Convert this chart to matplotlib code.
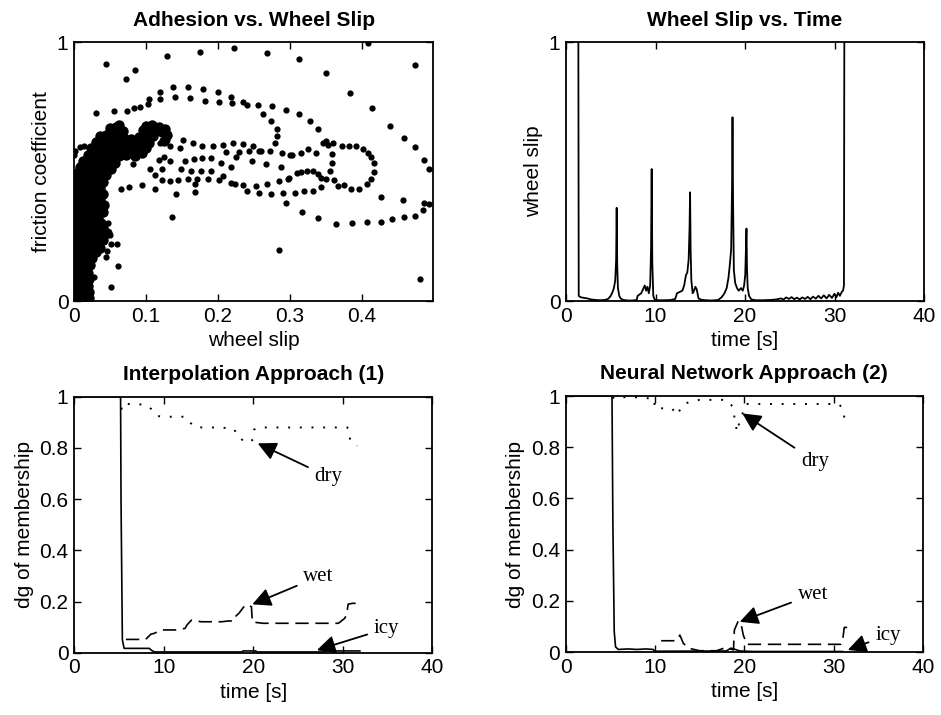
import numpy as np
import matplotlib
matplotlib.use('Agg')
import matplotlib.pyplot as plt
from matplotlib.ticker import StrMethodFormatter

plt.rcParams['font.family'] = ['Liberation Sans', 'DejaVu Sans']

# ---- Adhesion vs. wheel slip: (slip, friction coefficient) points ----
# sparse dots: outliers, loops and bands
sparse_pts = [
    (0.044, 0.915), (0.073, 0.858), (0.085, 0.893), (0.129, 0.945), (0.176, 0.963),
    (0.223, 0.977), (0.269, 0.960), (0.3125, 0.936), (0.351, 0.881), (0.409, 0.996),
    (0.474, 0.911), (0.481, 0.085), (0.285, 0.197), (0.136, 0.326), (0.060, 0.220),
    (0.061, 0.137), (0.028, 0.094), (0.052, 0.054),
    (0.031, 0.725), (0.056, 0.736), (0.074, 0.735), (0.084, 0.744), (0.092, 0.751),
    (0.103, 0.762), (0.104, 0.782), (0.119, 0.807), (0.1375, 0.826), (0.159, 0.826),
    (0.179, 0.818), (0.200, 0.807), (0.219, 0.790), (0.235, 0.769), (0.240, 0.759),
    (0.256, 0.758), (0.263, 0.722), (0.276, 0.753), (0.274, 0.696), (0.282, 0.664),
    (0.283, 0.639), (0.280, 0.612), (0.295, 0.738), (0.3125, 0.722), (0.328, 0.696),
    (0.339, 0.664), (0.350, 0.618),
    (0.120, 0.780), (0.141, 0.790), (0.162, 0.784), (0.182, 0.774), (0.202, 0.767),
    (0.220, 0.764),
    (0.384, 0.803), (0.414, 0.746), (0.440, 0.676), (0.459, 0.631), (0.475, 0.594),
    (0.487, 0.545), (0.494, 0.509), (0.487, 0.380), (0.494, 0.376),
    (0.151, 0.622), (0.165, 0.609), (0.178, 0.597), (0.194, 0.599), (0.208, 0.603),
    (0.221, 0.609), (0.235, 0.606), (0.249, 0.600), (0.260, 0.581), (0.273, 0.581),
    (0.290, 0.573), (0.300, 0.564),
    (0.148, 0.590), (0.155, 0.542), (0.167, 0.548), (0.178, 0.552), (0.191, 0.552),
    (0.205, 0.535), (0.211, 0.577), (0.226, 0.558), (0.230, 0.577), (0.244, 0.580),
    (0.247, 0.542), (0.258, 0.581), (0.267, 0.530), (0.288, 0.517),
    (0.149, 0.509), (0.163, 0.503), (0.177, 0.503), (0.191, 0.504), (0.207, 0.483),
    (0.219, 0.517), (0.202, 0.468), (0.186, 0.470), (0.171, 0.473), (0.158, 0.470),
    (0.145, 0.468), (0.134, 0.464), (0.123, 0.468), (0.113, 0.487),
    (0.218, 0.457), (0.224, 0.452), (0.235, 0.448), (0.241, 0.426), (0.253, 0.445),
    (0.258, 0.416), (0.269, 0.451), (0.274, 0.412), (0.285, 0.465), (0.291, 0.416),
    (0.298, 0.473), (0.295, 0.378), (0.094, 0.448), (0.113, 0.434), (0.142, 0.414),
    (0.169, 0.420), (0.169, 0.452), (0.065, 0.433), (0.077, 0.439), (0.082, 0.530),
    (0.120, 0.609), (0.129, 0.622), (0.133, 0.597), (0.125, 0.558), (0.133, 0.542),
    (0.118, 0.546), (0.123, 0.509), (0.106, 0.510),
    (0.347, 0.609), (0.354, 0.603), (0.360, 0.609), (0.373, 0.600), (0.383, 0.597),
    (0.393, 0.597), (0.402, 0.586), (0.409, 0.573), (0.413, 0.555), (0.417, 0.532),
    (0.417, 0.500), (0.413, 0.470), (0.407, 0.452), (0.397, 0.432), (0.386, 0.432),
    (0.375, 0.448), (0.367, 0.445), (0.362, 0.468), (0.356, 0.504), (0.359, 0.532),
    (0.359, 0.568), (0.350, 0.470), (0.343, 0.477), (0.340, 0.491), (0.332, 0.504),
    (0.324, 0.504), (0.316, 0.500), (0.310, 0.494), (0.299, 0.474), (0.337, 0.571),
    (0.326, 0.586), (0.316, 0.571), (0.303, 0.564), (0.344, 0.439), (0.333, 0.426),
    (0.320, 0.426), (0.307, 0.419), (0.317, 0.345), (0.340, 0.320), (0.365, 0.298),
    (0.387, 0.303), (0.407, 0.307), (0.427, 0.307), (0.443, 0.317), (0.459, 0.326),
    (0.475, 0.329), (0.485, 0.352), (0.427, 0.401), (0.457, 0.390),
    (0.0005, 0.565), (0.002, 0.580), (0.009, 0.595), (0.014, 0.600), (0.034, 0.548),
    (0.047, 0.300), (0.050, 0.255), (0.052, 0.222), (0.046, 0.195), (0.045, 0.170),
]

# dense cluster at low slip (blob of overlapping samples)
cluster_pts = [
    (0.002, 0.005), (0.009, 0.004), (0.016, 0.006), (0.021, 0.010),
    (0.003, 0.025), (0.010, 0.028), (0.017, 0.024), (0.021, 0.035),
    (0.002, 0.048), (0.008, 0.050), (0.015, 0.046), (0.020, 0.058),
    (0.004, 0.070), (0.011, 0.072), (0.018, 0.068),
    (0.002, 0.092), (0.009, 0.090), (0.016, 0.095), (0.021, 0.085),
    (0.004, 0.113), (0.012, 0.115), (0.019, 0.110),
    (0.002, 0.135), (0.009, 0.138), (0.016, 0.132), (0.022, 0.140),
    (0.004, 0.158), (0.011, 0.160), (0.018, 0.155), (0.025, 0.165),
    (0.002, 0.180), (0.009, 0.182), (0.016, 0.178), (0.023, 0.185), (0.031, 0.190),
    (0.004, 0.200), (0.011, 0.205), (0.019, 0.200), (0.027, 0.208), (0.036, 0.205),
    (0.002, 0.225), (0.009, 0.228), (0.016, 0.222), (0.024, 0.230), (0.032, 0.228),
    (0.041, 0.235),
    (0.005, 0.248), (0.012, 0.250), (0.020, 0.245), (0.028, 0.252), (0.037, 0.255),
    (0.046, 0.262),
    (0.002, 0.270), (0.009, 0.272), (0.017, 0.268), (0.025, 0.275), (0.033, 0.278),
    (0.041, 0.284),
    (0.005, 0.292), (0.013, 0.295), (0.021, 0.290), (0.029, 0.298), (0.038, 0.300),
    (0.002, 0.315), (0.009, 0.318), (0.017, 0.312), (0.025, 0.320), (0.034, 0.322),
    (0.005, 0.338), (0.012, 0.340), (0.020, 0.335), (0.028, 0.342), (0.040, 0.345),
    (0.002, 0.360), (0.009, 0.362), (0.016, 0.358), (0.024, 0.365), (0.032, 0.368),
    (0.042, 0.372),
    (0.005, 0.382), (0.012, 0.385), (0.020, 0.380), (0.028, 0.388), (0.036, 0.390),
    (0.002, 0.405), (0.009, 0.408), (0.016, 0.402), (0.024, 0.410), (0.032, 0.412),
    (0.041, 0.415),
    (0.005, 0.428), (0.012, 0.430), (0.020, 0.425), (0.028, 0.432), (0.036, 0.435),
    (0.002, 0.450), (0.009, 0.452), (0.016, 0.448), (0.024, 0.455), (0.032, 0.458),
    (0.040, 0.460),
    (0.006, 0.472), (0.013, 0.475), (0.021, 0.470), (0.029, 0.478), (0.037, 0.480),
    (0.045, 0.485),
    (0.004, 0.495), (0.011, 0.498), (0.019, 0.494), (0.027, 0.500), (0.035, 0.503),
    (0.043, 0.508), (0.052, 0.510),
    (0.008, 0.518), (0.016, 0.520), (0.024, 0.516), (0.032, 0.524), (0.040, 0.526),
    (0.048, 0.530), (0.057, 0.535),
    (0.013, 0.542), (0.021, 0.538), (0.029, 0.546), (0.037, 0.549),
    (0.045, 0.552), (0.053, 0.556), (0.062, 0.560), (0.072, 0.565), (0.085, 0.560),
    (0.095, 0.570),
    (0.019, 0.566), (0.027, 0.562), (0.035, 0.570), (0.043, 0.573),
    (0.051, 0.576), (0.059, 0.580), (0.068, 0.585), (0.078, 0.588), (0.090, 0.585),
    (0.100, 0.590),
    (0.024, 0.590), (0.032, 0.586), (0.040, 0.594), (0.048, 0.598),
    (0.056, 0.602), (0.064, 0.606), (0.074, 0.610), (0.084, 0.605), (0.095, 0.612),
    (0.104, 0.610),
    (0.030, 0.614), (0.038, 0.610), (0.046, 0.618), (0.054, 0.622),
    (0.062, 0.626), (0.070, 0.630), (0.080, 0.625), (0.090, 0.632), (0.100, 0.640),
    (0.110, 0.638),
    (0.036, 0.636), (0.044, 0.640), (0.052, 0.645), (0.060, 0.650),
    (0.068, 0.655), (0.096, 0.660), (0.104, 0.665), (0.114, 0.660), (0.122, 0.652),
    (0.050, 0.668), (0.058, 0.672), (0.062, 0.680), (0.100, 0.675),
    (0.108, 0.680), (0.118, 0.672), (0.126, 0.665), (0.130, 0.640), (0.125, 0.620),
]

# ---- Wheel slip vs. time: (t, slip) ----
slip_series = [
    (1.37, 1.2), (1.42, 0.02), (1.6, 0.015), (2.0, 0.012), (2.4, 0.010), (2.8, 0.006),
    (3.3, 0.004), (3.8, 0.003), (4.3, 0.004), (4.7, 0.008), (5.0, 0.02), (5.2, 0.035),
    (5.35, 0.05), (5.5, 0.08), (5.6, 0.16), (5.66, 0.36), (5.72, 0.14), (5.8, 0.05),
    (5.95, 0.02), (6.1, 0.01), (6.4, 0.004), (6.9, 0.002), (7.4, 0.002), (7.9, 0.004),
    (8.0, 0.02), (8.2, 0.025), (8.4, 0.03), (8.6, 0.045), (8.8, 0.06), (8.95, 0.04),
    (9.1, 0.055), (9.25, 0.03), (9.4, 0.06), (9.5, 0.2), (9.57, 0.51), (9.64, 0.15),
    (9.75, 0.02), (9.9, 0.006), (10.3, 0.003), (11.0, 0.003), (11.7, 0.004),
    (12.2, 0.008), (12.4, 0.03), (12.7, 0.035), (13.0, 0.04), (13.2, 0.06),
    (13.4, 0.10), (13.55, 0.11), (13.7, 0.16), (13.8, 0.28), (13.86, 0.42),
    (13.92, 0.2), (14.0, 0.08), (14.15, 0.03), (14.3, 0.04), (14.45, 0.055),
    (14.6, 0.045), (14.8, 0.01), (15.1, 0.005), (15.6, 0.003), (16.3, 0.002),
    (17.0, 0.004), (17.4, 0.015), (17.7, 0.03), (17.95, 0.05), (18.15, 0.09),
    (18.3, 0.14), (18.45, 0.2), (18.55, 0.45), (18.6, 0.71), (18.66, 0.4),
    (18.75, 0.12), (18.9, 0.07), (19.1, 0.05), (19.3, 0.04), (19.55, 0.05),
    (19.75, 0.04), (19.9, 0.06), (20.02, 0.1), (20.1, 0.2), (20.16, 0.28),
    (20.22, 0.12), (20.3, 0.05), (20.45, 0.02), (20.7, 0.006), (21.2, 0.003),
    (22.0, 0.003), (22.8, 0.004), (23.5, 0.006), (24.0, 0.010), (24.3, 0.006),
    (24.6, 0.014), (24.9, 0.008), (25.2, 0.015), (25.5, 0.007), (25.8, 0.013),
    (26.1, 0.006), (26.4, 0.014), (26.7, 0.008), (27.0, 0.016), (27.3, 0.007),
    (27.6, 0.017), (27.9, 0.009), (28.2, 0.020), (28.5, 0.010), (28.8, 0.022),
    (29.1, 0.010), (29.4, 0.024), (29.7, 0.012), (30.0, 0.028), (30.2, 0.014),
    (30.4, 0.032), (30.6, 0.020), (30.8, 0.035), (30.95, 0.04), (31.05, 0.06),
    (31.1, 1.2),
]

# ---- Interpolation approach (1): degree of membership ----
icy1_t = [0, 5.2, 5.25, 5.4, 5.6, 8.4, 8.7, 9.0, 18.8, 18.85, 20.3, 20.35, 28.0, 28.05, 31.9]
icy1_v = [1, 1, 0.6, 0.05, 0.017, 0.017, 0.008, 0.003, 0.003, 0.007, 0.007, 0.003, 0.003, 0.007, 0.007]
dry1_t = [5.3, 5.4, 6.7, 7.9, 8.6, 9.3, 9.9, 11.3, 12.4, 13.0, 13.4, 14.3, 15.9, 17.0,
          17.9, 18.2, 18.8, 19.4, 20.0, 20.1, 20.7, 24.0, 28.0, 30.5, 30.75, 30.8, 31.6]
dry1_v = [0.95, 0.974, 0.97, 0.97, 0.953, 0.925, 0.922, 0.922, 0.922, 0.898, 0.883, 0.88,
          0.88, 0.878, 0.873, 0.847, 0.831, 0.82, 0.833, 0.872, 0.88, 0.88, 0.88, 0.88,
          0.867, 0.828, 0.808]
wet1_t = [5.8, 8.0, 8.6, 8.9, 9.8, 11.3, 12.4, 12.6, 13.1, 14.2, 16.5, 17.2, 17.8, 18.0,
          18.4, 19.1, 19.4, 19.8, 19.9, 21.1, 29.5, 30.2, 30.4, 30.6, 31.1, 31.7]
wet1_v = [0.052, 0.052, 0.073, 0.075, 0.089, 0.089, 0.095, 0.108, 0.127, 0.121, 0.121,
          0.124, 0.124, 0.141, 0.154, 0.186, 0.186, 0.18, 0.12, 0.115, 0.115, 0.134,
          0.147, 0.19, 0.193, 0.193]

# ---- Neural network approach (2) ----
icy2_t = [0, 5.2, 5.3, 5.45, 5.6, 5.9, 7.0, 8.0, 9.0, 9.8, 10.0, 18.0, 18.5, 19.0, 19.5, 21.0, 31.0]
icy2_v = [1, 1, 0.5, 0.08, 0.02, 0.01, 0.012, 0.01, 0.012, 0.01, 0.003, 0.004, 0.015, 0.01,
          0.004, 0.002, 0.002]
dry2_t = [5.3, 5.4, 7.0, 8.4, 9.5, 9.9, 10.0, 10.8, 11.9, 12.5, 13.1, 13.9, 15.0, 17.6,
          18.3, 18.7, 18.9, 19.1, 19.15, 19.5, 19.8, 20.2, 25.0, 30.5, 30.9, 31.2, 31.5]
dry2_v = [0.99, 0.997, 0.995, 0.995, 0.99, 0.99, 0.952, 0.952, 0.952, 0.926, 0.965, 0.978,
          0.985, 0.985, 0.978, 0.958, 0.919, 0.887, 0.86, 0.90, 0.93, 0.969, 0.969, 0.969,
          0.958, 0.919, 0.893]
wet2_t = [10.7, 12.4, 12.8, 13.2, 13.9, 15.0, 16.9, 18.0, 18.8, 18.9, 19.3, 19.6, 19.9,
          20.3, 20.5, 30.6, 30.8, 31.0, 31.2, 32.1]
wet2_v = [0.044, 0.044, 0.066, 0.033, 0.014, 0.005, 0.005, 0.018, 0.008, 0.086, 0.118,
          0.118, 0.066, 0.03, 0.03, 0.03, 0.03, 0.04, 0.096, 0.096]

# annotations: (text, arrow tip, text position)
notes1 = [('dry', (20.5, 0.818), (28.4, 0.687)),
          ('wet', (19.9, 0.189), (27.3, 0.297)),
          ('icy', (27.1, 0.010), (34.9, 0.095))]
notes2 = [('dry', (19.8, 0.932), (27.9, 0.746)),
          ('wet', (19.5, 0.118), (27.7, 0.225)),
          ('icy', (31.6, 0.008), (36.1, 0.066))]

FS = 15
DOT = (0, (1, 5))
DASH = (0, (8, 4))


def style_axes(ax):
    for sp in ax.spines.values():
        sp.set_linewidth(1.3)
    ax.tick_params(direction='in', top=True, right=True, length=5, width=1,
                   labelsize=FS, pad=4)
    ax.xaxis.set_major_formatter(StrMethodFormatter('{x:g}'))
    ax.yaxis.set_major_formatter(StrMethodFormatter('{x:g}'))


def add_notes(ax, notes):
    for txt, tip, pos in notes:
        ax.annotate(txt, xy=tip, xytext=pos, ha='center', va='center',
                    fontsize=15, family='Liberation Serif',
                    arrowprops=dict(arrowstyle='-|>', mutation_scale=28, color='black',
                                    lw=1.3, shrinkA=3, shrinkB=0))


fig = plt.figure(figsize=(9.41, 7.15), dpi=100)
ax1 = fig.add_axes([0.0786, 0.579, 0.382, 0.362])
ax2 = fig.add_axes([0.6015, 0.579, 0.3805, 0.362])
ax3 = fig.add_axes([0.0786, 0.0871, 0.381, 0.358])
ax4 = fig.add_axes([0.601, 0.0881, 0.3797, 0.358])

# adhesion scatter: the blob samples overlap so they are drawn a bit heavier
sp = np.array(sparse_pts)
cl = np.array(cluster_pts)
ax1.plot(cl[:, 0], cl[:, 1], 'o', color='black', ms=7.5, mew=0)
ax1.plot(sp[:, 0], sp[:, 1], 'o', color='black', ms=4.5, mew=0)
ax1.set_xlim(0, 0.5)
ax1.set_ylim(0, 1)
ax1.set_xticks([0, 0.1, 0.2, 0.3, 0.4])
ax1.set_yticks([0, 1])
ax1.set_xlabel('wheel slip', fontsize=FS)
ax1.set_ylabel('friction coefficient', fontsize=FS)
ax1.set_title('Adhesion vs. Wheel Slip', fontsize=FS, fontweight='bold', pad=12)

# wheel slip vs time
ws = np.array(slip_series)
ax2.plot(ws[:, 0], ws[:, 1], color='black', lw=1.3)
ax2.set_xlim(0, 40)
ax2.set_ylim(0, 1)
ax2.set_xticks([0, 10, 20, 30, 40])
ax2.set_yticks([0, 1])
ax2.set_xlabel('time [s]', fontsize=FS)
ax2.set_ylabel('wheel slip', fontsize=FS)
ax2.set_title('Wheel Slip vs. Time', fontsize=FS, fontweight='bold', pad=12)

# membership plots
for ax, (it, iv, dt, dv, wt, wv), notes, title in [
        (ax3, (icy1_t, icy1_v, dry1_t, dry1_v, wet1_t, wet1_v), notes1,
         'Interpolation Approach (1)'),
        (ax4, (icy2_t, icy2_v, dry2_t, dry2_v, wet2_t, wet2_v), notes2,
         'Neural Network Approach (2)')]:
    ax.plot(it, iv, color='black', lw=1.2)
    ax.plot(dt, dv, color='black', lw=1.4, linestyle=DOT)
    ax.plot(wt, wv, color='black', lw=1.2, linestyle=DASH)
    ax.set_xlim(0, 40)
    ax.set_ylim(0, 1)
    ax.set_xticks([0, 10, 20, 30, 40])
    ax.set_yticks([0, 0.2, 0.4, 0.6, 0.8, 1])
    ax.set_xlabel('time [s]', fontsize=FS)
    ax.set_ylabel('dg of membership', fontsize=FS)
    ax.set_title(title, fontsize=FS, fontweight='bold', pad=12)
    add_notes(ax, notes)

for ax in (ax1, ax2, ax3, ax4):
    style_axes(ax)

fig.savefig('out.png', dpi=100)
